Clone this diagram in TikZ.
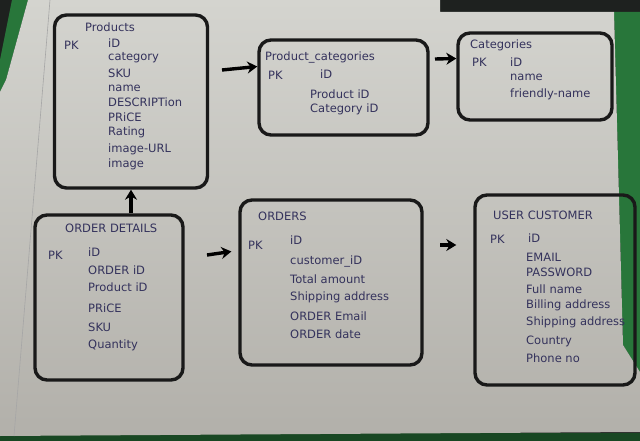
\documentclass[tikz,border=0pt]{standalone}
\usepackage{fontspec}
\setmainfont{DejaVu Sans}
\usetikzlibrary{arrows.meta}
\definecolor{ink}{RGB}{52,50,92}
\definecolor{paperhi}{RGB}{212,212,207}
\definecolor{paperlo}{RGB}{178,176,170}
\definecolor{binder}{RGB}{40,118,58}
\definecolor{desk}{RGB}{30,33,31}
\tikzset{
  entity/.style={draw=black!90, line width=3.4pt, rounded corners=12pt, inner sep=0pt},
  field/.style={anchor=west, inner sep=0pt, text=ink, font=\fontsize{11.5}{13}\selectfont},
  link/.style={line width=3.4pt, -{Stealth[length=10pt, width=12pt]}}
}
\begin{document}
\begin{tikzpicture}[x=1pt, y=-1pt]
  \useasboundingbox (0,0) rectangle (640,441);
  % desk, binder and the sheet of paper
  \fill[desk] (0,0) rectangle (640,441);
  \fill[binder] (12,0) -- (28,0) -- (6,80) -- (0,92) -- (0,60) -- cycle;
  \fill[binder] (614,12) -- (640,12) -- (640,372) -- (623,345) -- cycle;
  \fill[binder!60!black] (0,433) rectangle (640,441);
  \shade[top color=paperhi, bottom color=paperlo]
    (28,0) -- (440,0) -- (440,12) -- (614,12) -- (623,345) -- (640,372)
    -- (640,432) -- (0,436) -- (0,92) -- (6,80) -- cycle;
  \draw[gray!70, line width=.6pt] (50,0) -- (14,436);

  % the tables
  \node[entity, minimum width=153, minimum height=173] (products) at (131,101.5) {};
  \node[entity, minimum width=169, minimum height=95] (pcat) at (343.5,87.5) {};
  \node[entity, minimum width=154, minimum height=87] (cats) at (535,76.5) {};
  \node[entity, minimum width=148, minimum height=165] (odet) at (109,297.5) {};
  \node[entity, minimum width=182, minimum height=165] (orders) at (331,282.5) {};
  \node[entity, minimum width=160, minimum height=190] (ucust) at (555,290) {};

  % Products
  \node[field] (prodtitle) at (85,27) {Products};
  \node[field] (prodpk) at (64,45) {PK};
  \foreach \t/\y [count=\i] in {iD/43, category/58, SKU/73, name/88, DESCRIPTion/102,
      PRiCE/117, Rating/132, image-URL/149, image/164}
    \node[field] (prod\i) at (108,\y) {\t};

  % Product_categories
  \node[field] (pcattitle) at (265,57) {Product\_categories};
  \node[field] (pcatpk) at (268,75) {PK};
  \foreach \t/\y [count=\i] in {iD/74, Product iD/94, Category iD/109}
    \node[field] (pcat\i) at ({\i==1 ? 320 : 310},\y) {\t};

  % Categories
  \node[field] (catstitle) at (470,45) {Categories};
  \node[field] (catspk) at (472,62) {PK};
  \foreach \t/\y [count=\i] in {iD/62, name/77, friendly-name/94}
    \node[field] (cats\i) at (510,\y) {\t};

  % ORDER DETAILS
  \node[field] (odettitle) at (65,228) {ORDER DETAILS};
  \node[field] (odetpk) at (48,255) {PK};
  \foreach \t/\y [count=\i] in {iD/252, ORDER iD/270, Product iD/287, PRiCE/308,
      SKU/327, Quantity/345}
    \node[field] (odet\i) at (88,\y) {\t};

  % ORDERS
  \node[field] (orderstitle) at (258,216) {ORDERS};
  \node[field] (orderspk) at (248,245) {PK};
  \foreach \t/\y [count=\i] in {iD/240, customer\_iD/261, Total amount/279,
      Shipping address/297, ORDER Email/316, ORDER date/334}
    \node[field] (orders\i) at (290,\y) {\t};

  % USER CUSTOMER
  \node[field] (ucusttitle) at (493,215) {USER CUSTOMER};
  \node[field] (ucustpk) at (490,239) {PK};
  \foreach \t/\y [count=\i] in {iD/238, EMAIL/257, PASSWORD/272, Full name/289,
      Billing address/305, Shipping address/322, Country/341, Phone no/358}
    \node[field] (ucust\i) at ({\i==1 ? 528 : 526},\y) {\t};

  % arrows between the tables
  \coordinate (a1) at (222,70);
  \coordinate (a2) at (435,59);
  \coordinate (a3) at (207,255);
  \coordinate (a4) at (440,245);
  \draw[link] (a1) -- ([yshift=21pt]pcat.west);
  \draw[link] (a2) -- ([yshift=18pt]cats.west);
  \draw[link] (odet.north -| products.south) -- (products.south);
  \draw[link, shorten >=7pt] (a3) -- ([yshift=32pt]orders.west);
  \draw[link, shorten >=17pt] (a4) -- (a4 -| ucust.west);
\end{tikzpicture}
\end{document}
